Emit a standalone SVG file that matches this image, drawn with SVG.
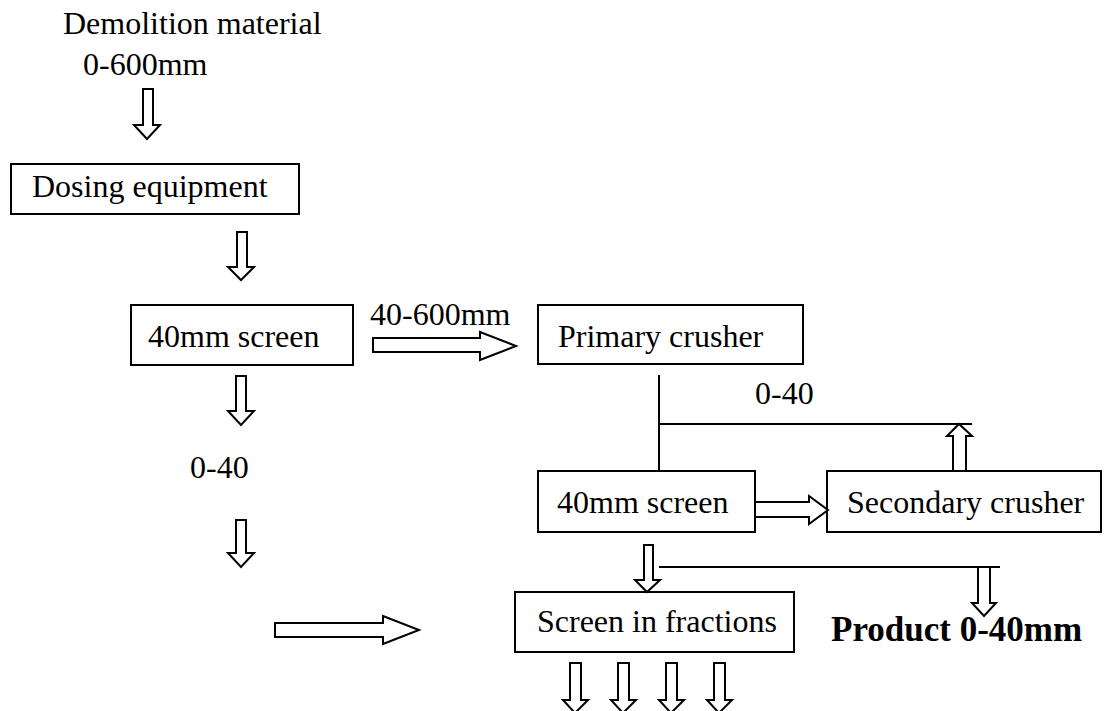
<svg xmlns="http://www.w3.org/2000/svg" width="1113" height="711" viewBox="0 0 1113 711">
<style>
text{font-family:"Liberation Serif","Times New Roman",serif;font-size:32px;fill:#000}
.b{font-weight:bold;font-size:35px}
.box{fill:#fff;stroke:#000;stroke-width:2}
.ar{fill:#fff;stroke:#000;stroke-width:2;stroke-linejoin:miter}
line{stroke:#000;stroke-width:2}
</style>
<rect width="1113" height="711" fill="#fff"/>
<g id="source">
<text x="63" y="34">Demolition material</text>
<text x="83" y="75">0-600mm</text>
</g>
<g id="dosing">
<rect class="box" x="11" y="164" width="288" height="50"/>
<text x="32" y="197">Dosing equipment</text>
</g>
<g id="screen1">
<rect class="box" x="131" y="305" width="222" height="60"/>
<text x="148" y="347">40mm screen</text>
</g>
<g id="primary">
<rect class="box" x="538" y="305" width="265" height="59"/>
<text x="558" y="347">Primary crusher</text>
</g>
<g id="screen2">
<rect class="box" x="538" y="471" width="217" height="61"/>
<text x="557" y="513">40mm screen</text>
</g>
<g id="secondary">
<rect class="box" x="827" y="471" width="274" height="61"/>
<text x="847" y="513">Secondary crusher</text>
</g>
<g id="fractions">
<rect class="box" x="515" y="592" width="279" height="60"/>
<text x="537" y="632">Screen in fractions</text>
</g>
<g id="product">
<text class="b" x="831" y="641">Product 0-40mm</text>
</g>
<g id="connectors">
<polygon class="ar" points="143,89 153,89 153,125 160,125 147,139 134,125 143,125"/>
<polygon class="ar" points="237,232 247,232 247,267 254,267 241,280 228,267 237,267"/>
<polygon class="ar" points="236,376 246,376 246,411 254,411 241,425 228,411 236,411"/>
<polygon class="ar" points="236,520 246,520 246,553 254,553 241,567 228,553 236,553"/>
<text x="190" y="478">0-40</text>
<polygon class="ar" points="373,338 480,338 480,332 516,346 480,360 480,352 373,352"/>
<text x="370" y="325">40-600mm</text>
<line x1="659" y1="375" x2="659" y2="471"/>
<line x1="659" y1="424" x2="972" y2="424"/>
<text x="755" y="404">0-40</text>
<polygon class="ar" points="953,471 953,436 947,436 959,424 972,436 966,436 966,471"/>
<polygon class="ar" points="755,502 809,502 809,496 828,510 809,524 809,517 755,517"/>
<polygon class="ar" points="644,545 653,545 653,580 660,580 647,592 635,580 644,580"/>
<line x1="659" y1="567" x2="1000" y2="567"/>
<polygon class="ar" points="978,567 990,567 990,603 996,603 984,616 972,603 978,603"/>
<polygon class="ar" points="275,623 383,623 383,616 419,630 383,644 383,637 275,637"/>
<polygon class="ar" points="570,663 581,663 581,700 588,700 575,713 563,700 570,700"/>
<polygon class="ar" points="618,663 629,663 629,700 636,700 623,713 611,700 618,700"/>
<polygon class="ar" points="666,663 677,663 677,700 684,700 671,713 659,700 666,700"/>
<polygon class="ar" points="714,663 725,663 725,700 732,700 719,713 707,700 714,700"/>
</g>
</svg>
